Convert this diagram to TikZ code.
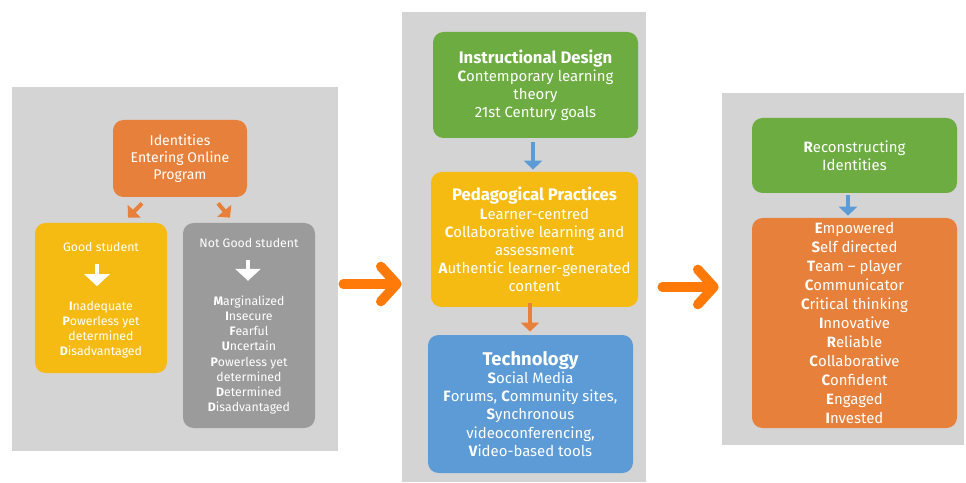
\documentclass[tikz,border=0pt]{standalone}
\usepackage{fontspec}
\setmainfont{Fira Sans}
\usepackage{tikz}
\usetikzlibrary{arrows.meta}
\usetikzlibrary{positioning}

\definecolor{panelgrey}{RGB}{212,212,212}
\definecolor{boxorange}{RGB}{231,128,58}
\definecolor{boxyellow}{RGB}{245,187,18}
\definecolor{boxgrey}{RGB}{155,155,155}
\definecolor{boxgreen}{RGB}{108,172,64}
\definecolor{boxblue}{RGB}{92,155,213}
\definecolor{bigorange}{RGB}{255,122,8}

\newcommand{\firstl}[1]{\textbf{#1}}

\begin{document}
\begin{tikzpicture}[>=stealth, font=\fontsize{8.5}{10.3}\selectfont]
  \tikzset{panel/.style={fill=panelgrey, inner sep=0pt},
    card/.style={rounded corners=6pt, inner sep=2pt, align=center, text=white},
    head/.style={font=\fontsize{9.5}{11.5}\selectfont\bfseries},
    small/.style={font=\fontsize{7}{8.6}\selectfont},
    smallarr/.style={line width=2.3pt, -{Triangle[length=1.8mm,width=3.6mm]}},
    whitearr/.style={draw=white, line width=2.8pt, -{Triangle[length=2.4mm,width=5mm]}},
    bigarr/.style={draw=bigorange, line width=5.5pt, line cap=round,
      -{Straight Barb[length=3.2mm,width=7mm,round]}}}

  \useasboundingbox (0,0) rectangle (19.32,9.64);

  %--- grey panels ---
  \node[panel, minimum width=6.52cm, minimum height=7.28cm] (lpanel) at (3.50,4.26) {};
  \node[panel, minimum width=4.88cm, minimum height=9.40cm] (mpanel) at (10.48,4.70) {};
  \node[panel, minimum width=4.84cm, minimum height=7.04cm] (rpanel) at (16.86,4.26) {};

  %--- left panel ---
  \node[card, fill=boxorange, minimum width=2.68cm, minimum height=1.54cm, font=\fontsize{8}{9.8}\selectfont]
    (ident) at (3.60,6.47) {Identities\\Entering Online\\Program};
  \node[card, fill=boxyellow, minimum width=2.64cm, minimum height=3.00cm] (good) at (2.02,3.68) {};
  \node[card, fill=boxgrey, minimum width=2.64cm, minimum height=4.10cm] (notgood) at (4.98,3.13) {};

  \draw[smallarr, draw=boxorange] ([xshift=-0.76cm,yshift=-0.12cm]ident.south)
    -- ([xshift=0.54cm,yshift=0.10cm]good.north);
  \draw[smallarr, draw=boxorange] ([xshift=0.76cm,yshift=-0.12cm]ident.south)
    -- ([xshift=-0.38cm,yshift=0.10cm]notgood.north);

  % good student
  \node[small, text=white, align=center] (goodhead) at (2.02,4.70) {Good student};
  \node[small, text=white, align=center] (goodlist) at (2.02,3.04)
    {\firstl{I}nadequate\\\firstl{P}owerless yet\\determined\\\firstl{D}isadvantaged};
  \draw[whitearr] ([xshift=-0.08cm,yshift=-0.12cm]goodhead.south) -- ([xshift=-0.08cm,yshift=0.18cm]goodlist.north);

  % not good student
  \node[small, text=white, align=center] (badhead) at (4.98,4.78) {Not Good student};
  \node[small, text=white, align=center] (badlist) at (4.98,2.54)
    {\firstl{M}arginalized\\\firstl{I}nsecure\\\firstl{F}earful\\\firstl{U}ncertain\\
     \firstl{P}owerless yet\\determined\\\firstl{D}etermined\\\firstl{D}isadvantaged};
  \draw[whitearr] ([xshift=-0.02cm,yshift=-0.12cm]badhead.south) -- ([xshift=-0.02cm,yshift=0.18cm]badlist.north);

  %--- middle panel ---
  \node[card, fill=boxgreen, minimum width=4.10cm, minimum height=2.12cm] (design) at (10.71,7.94)
    {{\fontsize{9.5}{11.5}\selectfont\bfseries Instructional Design}\\
     \firstl{C}ontemporary learning\\theory\\21st Century goals};
  \node[card, fill=boxyellow, minimum width=4.14cm, minimum height=2.70cm] (pedag) at (10.69,4.85)
    {{\fontsize{9.5}{11.5}\selectfont\bfseries Pedagogical Practices}\\
     \firstl{L}earner-centred\\\firstl{C}ollaborative learning and\\assessment\\
     \firstl{A}uthentic learner-generated\\content};
  \node[card, fill=boxblue, minimum width=4.10cm, minimum height=2.76cm] (tech) at (10.61,1.56)
    {{\fontsize{10.5}{12}\selectfont\bfseries Technology}\\
     \firstl{S}ocial Media\\\firstl{F}orums, \firstl{C}ommunity sites,\\\firstl{S}ynchronous\\
     videoconferencing,\\\firstl{V}ideo-based tools};

  \draw[smallarr, draw=boxblue] ([xshift=-0.05cm,yshift=-0.08cm]design.south) -- ([xshift=-0.03cm,yshift=0.04cm]pedag.north);
  \draw[smallarr, draw=boxorange] ([xshift=-0.09cm,yshift=0.08cm]pedag.south) -- ([xshift=-0.01cm,yshift=0.06cm]tech.north);

  %--- right panel ---
  \node[card, fill=boxgreen, minimum width=4.10cm, minimum height=1.50cm] (recon) at (17.09,6.53)
    {\firstl{R}econstructing\\Identities};
  \node[card, fill=boxorange, minimum width=4.10cm, minimum height=4.20cm, font=\fontsize{8.5}{10.8}\selectfont]
    (traits) at (17.09,3.18)
    {\firstl{E}mpowered\\\firstl{S}elf directed\\\firstl{T}eam -- player\\\firstl{C}ommunicator\\
     \firstl{C}ritical thinking\\\firstl{I}nnovative\\\firstl{R}eliable\\\firstl{C}ollaborative\\
     \firstl{C}onfident\\\firstl{E}ngaged\\\firstl{I}nvested};

  \draw[smallarr, draw=boxblue] ([xshift=-0.13cm,yshift=-0.04cm]recon.south) -- ([xshift=-0.13cm,yshift=0.04cm]traits.north);

  %--- big arrows between panels ---
  \draw[bigarr, shorten <=0.1cm] ([yshift=-0.30cm]lpanel.east) -- ([yshift=-0.30cm]lpanel.east -| mpanel.west);
  \draw[bigarr, shorten <=0.32cm, shorten >=0.06cm] ([yshift=-0.36cm]rpanel.west -| mpanel.east) -- ([yshift=-0.36cm]rpanel.west);
\end{tikzpicture}
\end{document}
